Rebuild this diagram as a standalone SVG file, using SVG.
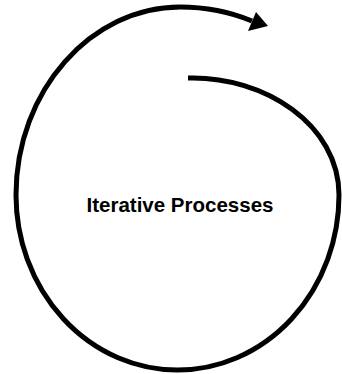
<svg xmlns="http://www.w3.org/2000/svg" width="342" height="374" viewBox="0 0 342 374">
<style>
.c{fill:none;stroke:#000;stroke-width:5;stroke-linecap:butt}
.t{font-family:"Liberation Sans",Arial,sans-serif;font-weight:bold;font-size:20.5px;fill:#000}
</style>
<rect width="342" height="374" fill="#fff"/>
<g id="connectors">
<path class="c" d="M188,78 C265,76 339,125 339,195 A161.5 175 0 0 1 16,195 C16,90 92,7 180,7 C205,7 228,11 252,21"/>
<polygon points="268,26 256,12 248,31" fill="#000"/>
</g>
<g id="label">
<text class="t" x="180" y="212" text-anchor="middle">Iterative Processes</text>
</g>
</svg>
